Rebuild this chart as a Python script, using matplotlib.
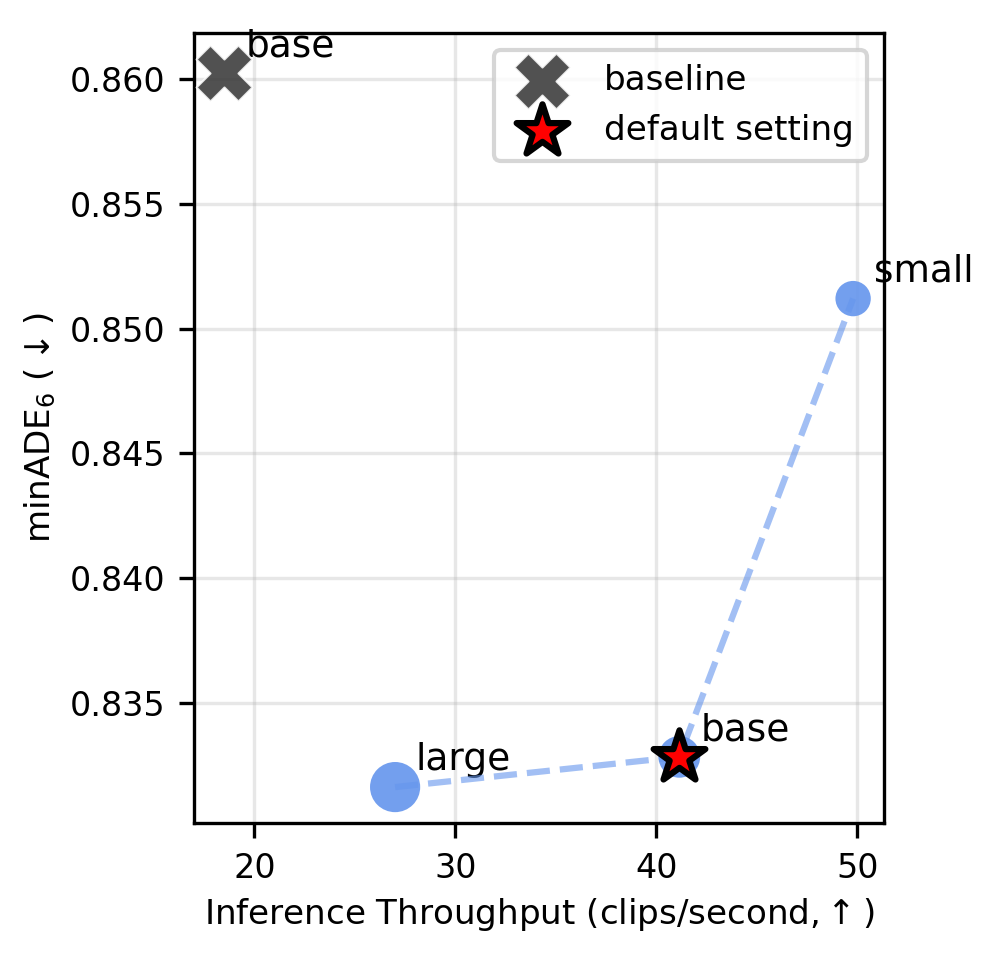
import numpy as np
import matplotlib
matplotlib.use('Agg')
import matplotlib.pyplot as plt

# model variants
names = ['large', 'base', 'small']
throughput = [27.0, 41.15, 49.8]
minade = [0.83163, 0.83284, 0.85120]
sizes = [145, 100, 72]

# baseline
base_tp = 18.5
base_ade = 0.86024

fig = plt.figure(figsize=(3.32, 3.19), dpi=300)
ax = fig.add_axes([0.195, 0.140, 0.6928, 0.8255])

ax.scatter(throughput, minade, s=sizes, color='cornflowerblue', alpha=0.9, edgecolors='none', zorder=3)
ax.plot(throughput, minade, '--', color='cornflowerblue', alpha=0.6, lw=1.5, zorder=4)

ax.scatter([base_tp], [base_ade], marker='X', s=180, color='#333333', alpha=0.85,
           edgecolors='white', linewidths=0.5, zorder=5, label='baseline')
ax.scatter([throughput[1]], [minade[1]], marker='*', s=170, color='red',
           edgecolors='black', linewidths=1.5, zorder=6, label='default setting')

for n, x, y in zip(names, throughput, minade):
    ax.annotate(n, (x, y), xytext=(5, 4), textcoords='offset points', fontsize=9, va='baseline')
ax.annotate('base', (base_tp, base_ade), xytext=(5, 4), textcoords='offset points', fontsize=9, va='baseline')

ax.set_xlim(17.0, 51.35)
ax.set_ylim(0.83019, 0.86184)
ax.set_xticks([20, 30, 40, 50])
ax.set_yticks([0.835, 0.840, 0.845, 0.850, 0.855, 0.860])
ax.tick_params(labelsize=8)
ax.grid(True, alpha=0.3)
ax.set_axisbelow(True)
ax.set_xlabel('Inference Throughput (clips/second,$\\uparrow$)', fontsize=8.2, labelpad=2.5)
ax.set_ylabel('minADE$_6$ ($\\downarrow$)', fontsize=8.2, labelpad=2.8)
ax.legend(loc='upper right', fontsize=8.2)

fig.savefig('out.png', dpi=300)
